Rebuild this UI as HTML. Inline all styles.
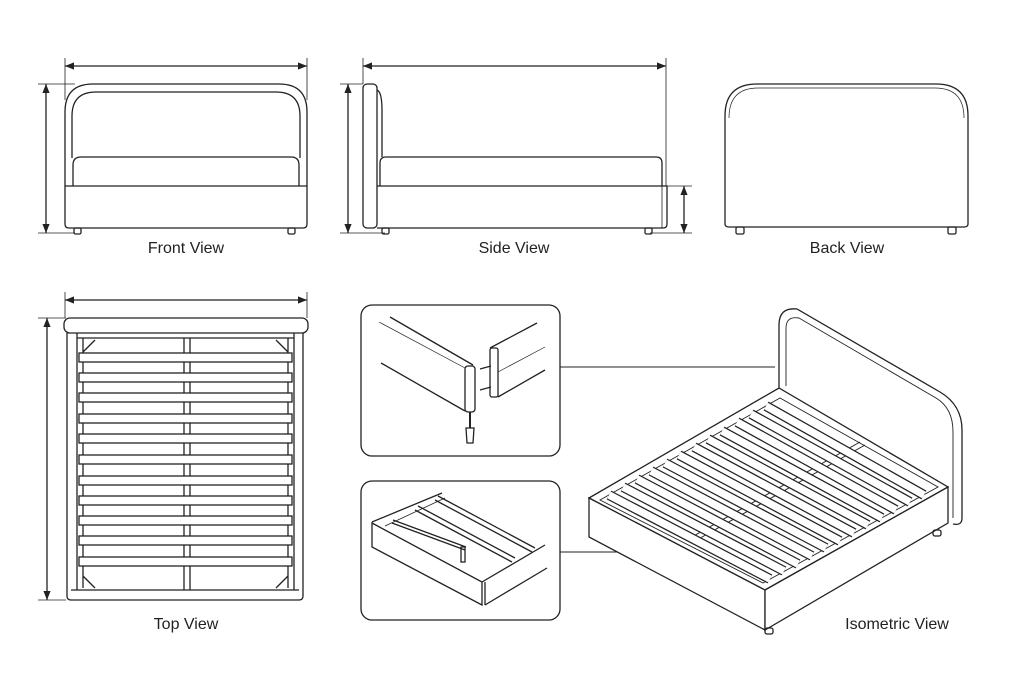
<!DOCTYPE html>
<html><head><meta charset="utf-8"><style>
html,body{margin:0;padding:0;background:#fff}
svg{display:block}
text{font-family:"Liberation Sans",sans-serif;font-size:16px;fill:#222}
</style></head><body>
<svg width="1024" height="687" viewBox="0 0 1024 687" xmlns="http://www.w3.org/2000/svg">
<defs>
<marker id="a" viewBox="0 0 10 10" refX="10" refY="5" markerWidth="7" markerHeight="7" orient="auto-start-reverse"><path d="M0,1 L10,5 L0,9 z" fill="#222"/></marker>
</defs>
<rect width="1024" height="687" fill="#fff"/>
<g fill="none" stroke="#222" stroke-width="1.3">
<!-- FRONT VIEW -->
<line x1="65" y1="66" x2="307" y2="66" marker-start="url(#a)" marker-end="url(#a)"/>
<line x1="65" y1="58" x2="65" y2="100" stroke-width="0.8"/><line x1="307" y1="58" x2="307" y2="100" stroke-width="0.8"/>
<line x1="46" y1="84" x2="46" y2="233" marker-start="url(#a)" marker-end="url(#a)"/>
<line x1="38" y1="84" x2="75" y2="84" stroke-width="0.8"/><line x1="38" y1="233" x2="75" y2="233" stroke-width="0.8"/>
<path d="M65,186 L65,112 Q65,84 93,84 L279,84 Q307,84 307,112 L307,186"/>
<path d="M72,158 L72,116 Q72,92 96,92 L276,92 Q300,92 300,116 L300,158"/>
<path d="M73,186 L73,165 Q73,157 81,157 L291,157 Q299,157 299,165 L299,186"/>
<path d="M65,186 L307,186 L307,224 Q307,228 303,228 L69,228 Q65,228 65,224 Z"/>
<rect x="74" y="228" width="7" height="6" rx="1.5"/><rect x="288" y="228" width="7" height="6" rx="1.5"/>
<!-- SIDE VIEW -->
<line x1="363" y1="66" x2="666" y2="66" marker-start="url(#a)" marker-end="url(#a)"/>
<line x1="363" y1="58" x2="363" y2="84" stroke-width="0.8"/><line x1="666" y1="58" x2="666" y2="186" stroke-width="0.8"/>
<line x1="348" y1="84" x2="348" y2="233" marker-start="url(#a)" marker-end="url(#a)"/>
<line x1="340" y1="84" x2="363" y2="84" stroke-width="0.8"/><line x1="340" y1="233" x2="385" y2="233" stroke-width="0.8"/>
<rect x="363" y="84" width="14" height="144" rx="4"/>
<path d="M377,90 Q382,92 382,110 L382,157"/>
<path d="M380,186 L380,163 Q380,157 386,157 L656,157 Q662,157 662,163 L662,186"/>
<path d="M377,186 L667,186 L667,224 Q667,228 663,228 L377,228"/>
<line x1="662" y1="186" x2="662" y2="228" stroke-width="0.8"/>
<line x1="684" y1="186" x2="684" y2="233" marker-start="url(#a)" marker-end="url(#a)"/>
<line x1="667" y1="186" x2="692" y2="186" stroke-width="0.8"/><line x1="650" y1="233" x2="692" y2="233" stroke-width="0.8"/>
<rect x="382" y="228" width="7" height="6" rx="1.5"/><rect x="645" y="228" width="7" height="6" rx="1.5"/>
<!-- BACK VIEW -->
<path d="M725,224 L725,116 Q725,84 757,84 L936,84 Q968,84 968,116 L968,224 Q968,227 964,227 L729,227 Q725,227 725,224 Z"/>
<path d="M729,118 Q729,88 758,88 L935,88 Q964,88 964,118" stroke-width="0.7"/>
<rect x="736" y="227" width="8" height="7" rx="1.5"/><rect x="948" y="227" width="8" height="7" rx="1.5"/>
<!-- TOP VIEW -->
<line x1="65" y1="300" x2="307" y2="300" marker-start="url(#a)" marker-end="url(#a)"/>
<line x1="65" y1="292" x2="65" y2="318" stroke-width="0.8"/><line x1="307" y1="292" x2="307" y2="318" stroke-width="0.8"/>
<line x1="47" y1="318" x2="47" y2="600" marker-start="url(#a)" marker-end="url(#a)"/>
<line x1="38" y1="318" x2="66" y2="318" stroke-width="0.8"/><line x1="38" y1="600" x2="66" y2="600" stroke-width="0.8"/>
<rect x="64" y="318" width="244" height="15" rx="6"/>
<path d="M67,333 L67,596 Q67,600 71,600 L299,600 Q303,600 303,596 L303,333"/>
<line x1="77" y1="333" x2="77" y2="590"/><line x1="294" y1="333" x2="294" y2="590"/>
<line x1="83" y1="338" x2="83" y2="588"/><line x1="288" y1="338" x2="288" y2="588"/>
<line x1="77" y1="338" x2="294" y2="338"/><line x1="71" y1="590" x2="299" y2="590"/>
<line x1="184" y1="338" x2="184" y2="590"/><line x1="190" y1="338" x2="190" y2="590"/>
<line x1="83" y1="352" x2="95" y2="340"/><line x1="288" y1="352" x2="276" y2="340"/>
<line x1="83" y1="576" x2="95" y2="588"/><line x1="288" y1="576" x2="276" y2="588"/>
<g fill="#fff">
<rect x="79" y="353" width="213" height="9"/><rect x="79" y="373" width="213" height="9"/>
<rect x="79" y="393" width="213" height="9"/><rect x="79" y="414" width="213" height="9"/>
<rect x="79" y="434" width="213" height="9"/><rect x="79" y="455" width="213" height="9"/>
<rect x="79" y="476" width="213" height="9"/><rect x="79" y="496" width="213" height="9"/>
<rect x="79" y="516" width="213" height="9"/><rect x="79" y="536" width="213" height="9"/>
<rect x="79" y="557" width="213" height="9"/>
</g>
<!-- DETAIL BOXES -->
<rect x="361" y="305" width="199" height="151" rx="11"/>
<rect x="361" y="481" width="199" height="139" rx="11"/>
<line x1="560" y1="367" x2="775" y2="367" stroke-width="0.9"/>
<line x1="560" y1="552" x2="695" y2="552" stroke-width="0.9"/>
<!-- box1 -->
<line x1="390" y1="317" x2="473" y2="365"/>
<line x1="379" y1="322" x2="465" y2="368" stroke-width="0.7"/>
<line x1="381" y1="363" x2="465" y2="411"/>
<rect x="465" y="366" width="10" height="46" rx="3"/>
<path d="M466,428 L474,428 L473,443 L467,443 Z"/>
<line x1="470" y1="412" x2="470" y2="428" stroke-width="2"/>
<rect x="490" y="348" width="8" height="49" rx="2"/>
<line x1="490" y1="348" x2="537" y2="323"/><line x1="498" y1="397" x2="545" y2="370"/>
<line x1="498" y1="372" x2="545" y2="347" stroke-width="0.7"/>
<line x1="480" y1="369" x2="491" y2="366"/><line x1="480" y1="390" x2="491" y2="387"/>
<!-- box2 -->
<line x1="372" y1="522" x2="442" y2="493"/><line x1="385" y1="526" x2="445" y2="498" stroke-width="0.8"/>
<path d="M372,523 L482,582 L482,605 L372,547 Z"/>
<path d="M482,582 L545,545 M485,605 L547,568 M485,582 L485,605"/>
<line x1="392" y1="523" x2="465" y2="550"/><line x1="393" y1="520" x2="466" y2="547"/>
<line x1="415" y1="510" x2="512" y2="562"/><line x1="418" y1="506" x2="515" y2="558"/>
<line x1="435" y1="500" x2="532" y2="552"/><line x1="438" y1="496" x2="535" y2="548"/>
<rect x="461" y="547" width="4" height="15"/>
<!-- ISO BED -->
<path d="M779,390 L779,325 Q779,307 797,309 L940,392 Q962,405 962,430 L962,518 Q962,526 953,524"/>
<path d="M786,386 L786,328 Q786,316 799,318 L936,398 Q953,408 953,432 L953,518" stroke-width="0.9"/>
<path d="M589,498 L779,388 L948,487 L765,590 Z" fill="#fff"/>
<path d="M600,500 L780,398 L938,487 L763,583 Z" stroke-width="0.9"/>
<line x1="690" y1="538" x2="860" y2="442" stroke-width="1"/>
<line x1="695" y1="541" x2="865" y2="445" stroke-width="1"/>
<path d="M589,498 L765,590 L765,630 L589,537 Z" fill="#fff"/>
<path d="M765,590 L948,487 L948,523 L765,630 Z" fill="#fff"/>
<rect x="765" y="628" width="8" height="6" rx="2"/><rect x="933" y="530" width="8" height="6" rx="2"/>
<g stroke-linecap="butt">
<g stroke="#222" stroke-width="10">
<line x1="609" y1="495" x2="770" y2="579"/><line x1="623" y1="487" x2="784" y2="571"/>
<line x1="637" y1="479" x2="798" y2="564"/><line x1="651" y1="471" x2="812" y2="556"/>
<line x1="665" y1="463" x2="826" y2="548"/><line x1="679" y1="455" x2="840" y2="541"/>
<line x1="694" y1="447" x2="854" y2="533"/><line x1="708" y1="439" x2="868" y2="525"/>
<line x1="722" y1="431" x2="882" y2="518"/><line x1="737" y1="422" x2="896" y2="510"/>
<line x1="751" y1="414" x2="910" y2="502"/><line x1="766" y1="406" x2="924" y2="495"/>
</g>
<g stroke="#fff" stroke-width="7.5">
<line x1="609" y1="495" x2="770" y2="579"/><line x1="623" y1="487" x2="784" y2="571"/>
<line x1="637" y1="479" x2="798" y2="564"/><line x1="651" y1="471" x2="812" y2="556"/>
<line x1="665" y1="463" x2="826" y2="548"/><line x1="679" y1="455" x2="840" y2="541"/>
<line x1="694" y1="447" x2="854" y2="533"/><line x1="708" y1="439" x2="868" y2="525"/>
<line x1="722" y1="431" x2="882" y2="518"/><line x1="737" y1="422" x2="896" y2="510"/>
<line x1="751" y1="414" x2="910" y2="502"/><line x1="766" y1="406" x2="924" y2="495"/>
</g>
</g>
</g>
<text x="186" y="253" text-anchor="middle">Front View</text>
<text x="514" y="253" text-anchor="middle">Side View</text>
<text x="847" y="253" text-anchor="middle">Back View</text>
<text x="186" y="629" text-anchor="middle">Top View</text>
<text x="897" y="629" text-anchor="middle">Isometric View</text>
</svg>
</body></html>
